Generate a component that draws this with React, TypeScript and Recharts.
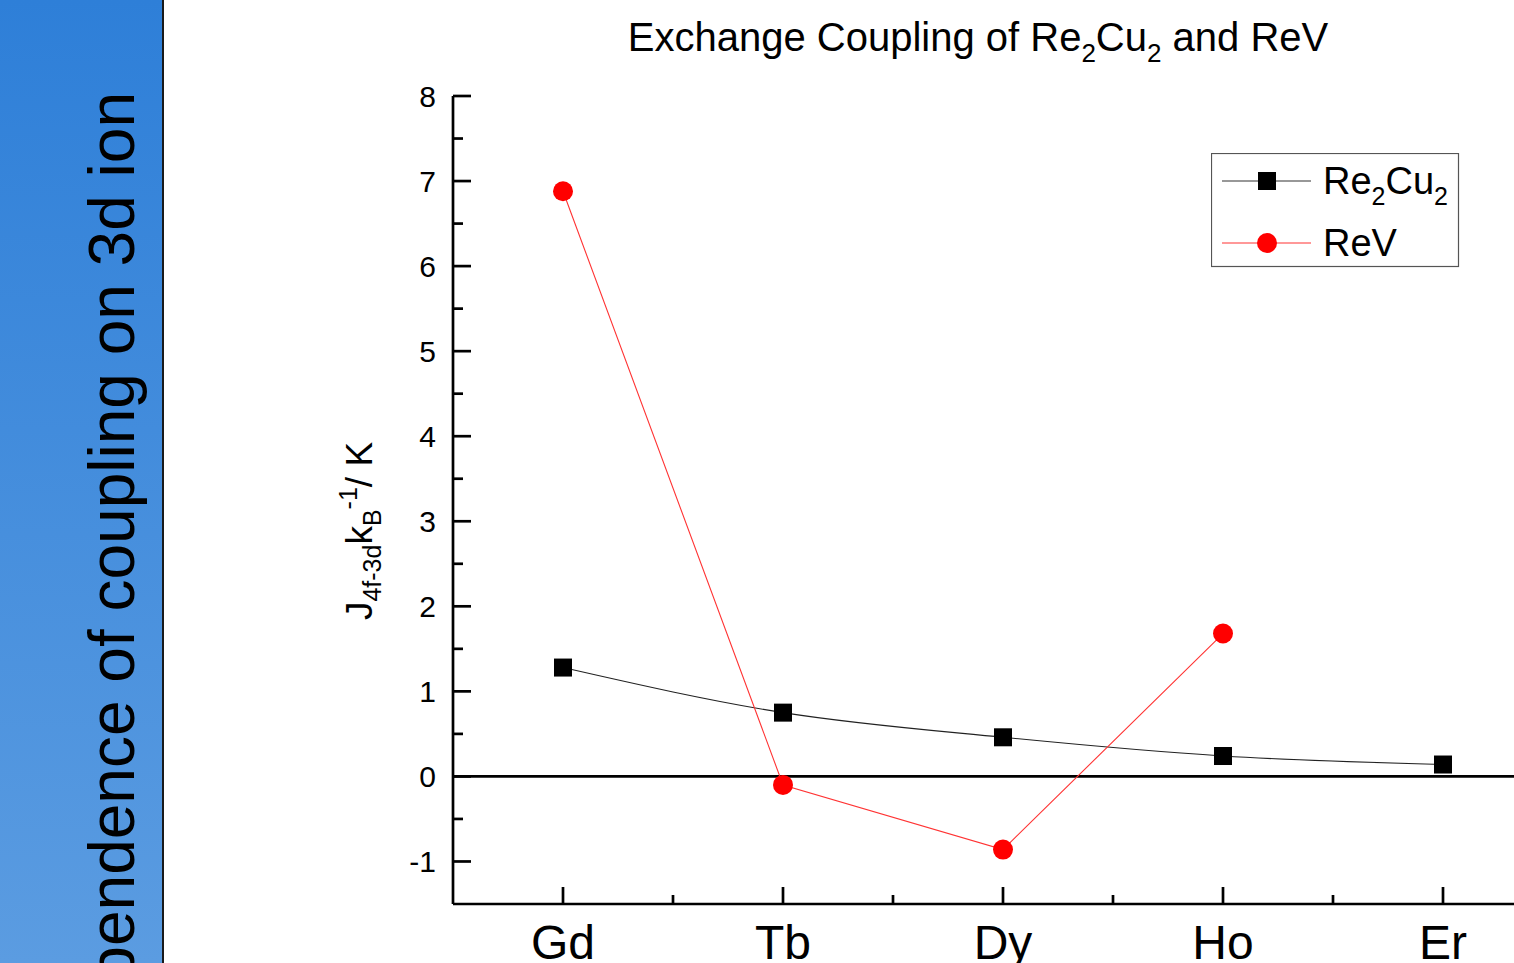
import React from "react";
import { LineChart, Line, XAxis, YAxis, ReferenceLine } from "recharts";

// ── data ──────────────────────────────────────────────────────────────────────
const ELEMENTS = ["Gd", "Tb", "Dy", "Ho", "Er"];
const RE2CU2 = [1.28, 0.75, 0.46, 0.24, 0.14];
const REV: (number | null)[] = [6.88, -0.1, -0.86, 1.68, null];
const Y_TICKS = [-1, -0.5, 0, 0.5, 1, 1.5, 2, 2.5, 3, 3.5, 4, 4.5, 5, 5.5, 6, 6.5, 7, 7.5, 8];
const X_TICKS = [0, 0.5, 1, 1.5, 2, 2.5, 3, 3.5, 4];

const data = ELEMENTS.map((name, i) => ({ idx: i, name, re2cu2: RE2CU2[i], rev: REV[i] }));

// ── layout ────────────────────────────────────────────────────────────────────
const FONT = "'Liberation Sans', Arial, sans-serif";
const MARGIN = { top: 96, right: 47, left: 373, bottom: 0 };
const Y_AXIS_W = 80;
const X_AXIS_H = 59;
const CHART_W = 1600;
const CHART_H = 963;
const PLOT_LEFT = MARGIN.left + Y_AXIS_W;
const PLOT_TOP = MARGIN.top;
const PLOT_BOTTOM = CHART_H - MARGIN.bottom - X_AXIS_H;
const AXIS_W = 2.7;

const isMajor = (v: number) => Number.isInteger(v);

function YTick(props: any) {
  const { y, payload } = props;
  const v = payload.value;
  const len = isMajor(v) ? 18 : 10;
  return (
    <g>
      <line x1={PLOT_LEFT} x2={PLOT_LEFT + len} y1={y} y2={y} stroke="#000" strokeWidth={AXIS_W} />
      {isMajor(v) && (
        <text x={PLOT_LEFT - 17} y={y} dy="0.36em" textAnchor="end" fontSize={30} fontFamily={FONT} fill="#000">
          {v}
        </text>
      )}
    </g>
  );
}

function XTick(props: any) {
  const { x, payload } = props;
  const v = payload.value;
  const len = isMajor(v) ? 17 : 9;
  return (
    <g>
      <line x1={x} x2={x} y1={PLOT_BOTTOM} y2={PLOT_BOTTOM - len} stroke="#000" strokeWidth={AXIS_W} />
      {isMajor(v) && (
        <text x={x} y={959} textAnchor="middle" fontSize={48} fontFamily={FONT} fill="#000">
          {ELEMENTS[v]}
        </text>
      )}
    </g>
  );
}

function TopTick(props: any) {
  const { x, payload } = props;
  const len = isMajor(payload.value) ? 16 : 9;
  return <line x1={x} x2={x} y1={PLOT_TOP} y2={PLOT_TOP + len} stroke="#000" strokeWidth={AXIS_W} />;
}

function YAxisLabel() {
  const cx = 372, cy = 531;
  return (
    <text x={cx} y={cy} transform={`rotate(-90, ${cx}, ${cy})`} textAnchor="middle" fontSize={37} fontFamily={FONT} fill="#000">
      J
      <tspan dy={9} fontSize={25}>4f-3d</tspan>
      <tspan dy={-9} fontSize={37}>k</tspan>
      <tspan dy={9} fontSize={25}>B</tspan>
      <tspan dy={-24} fontSize={25}>-1</tspan>
      <tspan dy={15} fontSize={37}>/ K</tspan>
    </text>
  );
}

const squareDot = (p: any) =>
  p.cy == null ? <g key={`s${p.index}`} /> : <rect key={`s${p.index}`} x={p.cx - 9} y={p.cy - 9} width={18} height={18} fill="#000" />;
const circleDot = (p: any) =>
  p.cy == null ? <g key={`c${p.index}`} /> : <circle key={`c${p.index}`} cx={p.cx} cy={p.cy} r={10} fill="#ff0000" />;

function LegendBox() {
  return (
    <svg width={249} height={115} style={{ position: "absolute", left: 1211, top: 153, display: "block" }}>
      <rect x={0.5} y={0.5} width={247} height={113} fill="#fff" stroke="#555" strokeWidth={1.2} />
      <line x1={11} x2={100} y1={28} y2={28} stroke="#333" strokeWidth={1.1} />
      <rect x={47} y={19} width={18} height={18} fill="#000" />
      <text x={112} y={41} fontSize={38} fontFamily={FONT} fill="#000">
        Re<tspan dy={11} fontSize={25}>2</tspan>
        <tspan dy={-11} fontSize={38}>Cu</tspan>
        <tspan dy={11} fontSize={25}>2</tspan>
      </text>
      <line x1={11} x2={100} y1={90} y2={90} stroke="#ff3333" strokeWidth={1.1} />
      <circle cx={56} cy={90} r={10} fill="#ff0000" />
      <text x={112} y={103} fontSize={38} fontFamily={FONT} fill="#000">ReV</text>
    </svg>
  );
}

function SidePanel() {
  return (
    <div
      style={{
        position: "absolute", left: 0, top: 0, width: 162, height: 963,
        background: "linear-gradient(#2e7fd8, #5b9ce1)", borderRight: "2px solid #1a1a1a",
      }}
    >
      <svg width={162} height={963} style={{ display: "block" }}>
        <text x={134} y={92} transform="rotate(-90, 134, 92)" textAnchor="end" fontSize={64} fontFamily={FONT} fill="#000">
          Dependence of coupling on 3d ion
        </text>
      </svg>
    </div>
  );
}

export default function App() {
  return (
    <div style={{ position: "absolute", left: 0, top: 0, width: 1514, height: 963, overflow: "hidden", background: "#fff" }}>
      <div
        style={{
          position: "absolute", left: 578, top: 17, width: 800, textAlign: "center",
          fontFamily: FONT, fontSize: 40, lineHeight: "40px", color: "#000", whiteSpace: "nowrap",
        }}
      >
        Exchange Coupling of Re<span style={{ fontSize: 26, position: "relative", top: 11 }}>2</span>Cu
        <span style={{ fontSize: 26, position: "relative", top: 11 }}>2</span> and ReV
      </div>
      <LineChart width={CHART_W} height={CHART_H} data={data} margin={MARGIN} style={{ position: "absolute", left: 0, top: 0 }}>
        <XAxis
          dataKey="idx" type="number" domain={[-0.5, 4.5]} ticks={X_TICKS} interval={0}
          height={X_AXIS_H} tickLine={false} tick={<XTick />}
          axisLine={{ stroke: "#000", strokeWidth: AXIS_W }}
        />
        <XAxis
          xAxisId="top" orientation="top" dataKey="idx" type="number" domain={[-0.5, 4.5]} ticks={X_TICKS} interval={0}
          height={0} tickLine={false} tick={<TopTick />}
          axisLine={{ stroke: "#000", strokeWidth: AXIS_W }}
        />
        <YAxis
          type="number" domain={[-1.5, 8]} ticks={Y_TICKS} interval={0} width={Y_AXIS_W}
          tickLine={false} tick={<YTick />} axisLine={{ stroke: "#000", strokeWidth: AXIS_W }}
          label={<YAxisLabel />}
        />
        <ReferenceLine y={0} stroke="#000" strokeWidth={AXIS_W} />
        <Line
          dataKey="re2cu2" type="monotone" stroke="#222" strokeWidth={1.1}
          dot={squareDot} activeDot={false} isAnimationActive={false}
        />
        <Line
          dataKey="rev" type="linear" stroke="#ff3333" strokeWidth={1.1}
          dot={circleDot} activeDot={false} isAnimationActive={false}
        />
      </LineChart>
      <LegendBox />
      <SidePanel />
    </div>
  );
}
